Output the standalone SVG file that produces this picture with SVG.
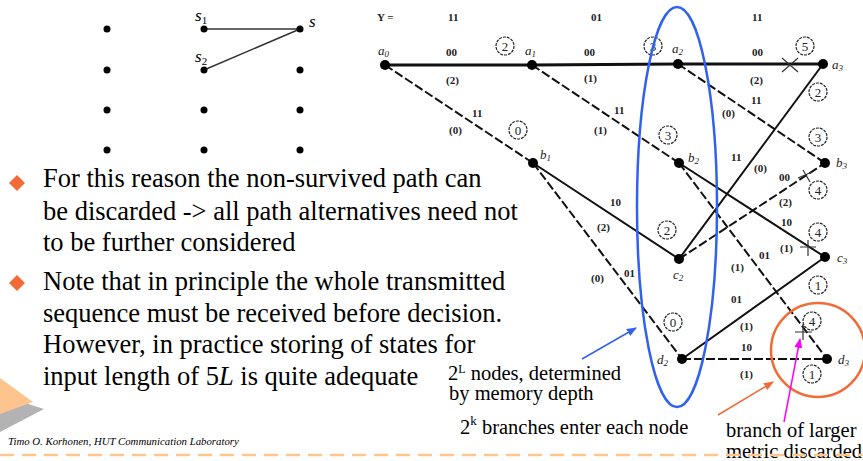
<svg xmlns="http://www.w3.org/2000/svg" width="863" height="461" viewBox="0 0 863 461">
<style>
.body{font-family:"Liberation Serif","Times New Roman",serif;font-size:26.5px;fill:#000}
.note{font-family:"Liberation Serif","Times New Roman",serif;font-size:20.5px;fill:#000}
.lab{font-family:"Liberation Serif","Times New Roman",serif;font-size:11px;font-weight:bold;fill:#222}
.node{font-family:"Liberation Serif","Times New Roman",serif;font-size:13px;font-style:italic;fill:#222}
.cn{font-family:"Liberation Serif","Times New Roman",serif;font-size:13px;fill:#222;text-anchor:middle}
.circ{fill:none;stroke:#222;stroke-width:1.2;stroke-dasharray:3 1}
.solid{stroke:#111;stroke-width:2;fill:none}
.thick{stroke:#111;stroke-width:3.2;fill:none}
.dash{stroke:#111;stroke-width:2;fill:none;stroke-dasharray:9 3}
.dot{fill:#000}
.mark{stroke:#333;stroke-width:1.2;fill:none}
</style>
<defs>
<marker id="ab" markerWidth="10" markerHeight="8" refX="9" refY="4" orient="auto" markerUnits="userSpaceOnUse"><path d="M0,0 L10,4 L0,8 z" fill="#2f62ee"/></marker>
<marker id="ao" markerWidth="10" markerHeight="8" refX="9" refY="4" orient="auto" markerUnits="userSpaceOnUse"><path d="M0,0 L10,4 L0,8 z" fill="#f26a35"/></marker>
<marker id="am" markerWidth="10" markerHeight="8" refX="9" refY="4" orient="auto" markerUnits="userSpaceOnUse"><path d="M0,0 L10,4 L0,8 z" fill="#ff00ff"/></marker>
</defs>
<rect width="863" height="461" fill="#fff"/>

<!-- small left trellis -->
<g id="small-trellis">
<line x1="204" y1="29" x2="300" y2="29" stroke="#333" stroke-width="1.5"/>
<line x1="204" y1="70" x2="300" y2="29" stroke="#333" stroke-width="1.5"/>
<g class="dot">
<circle cx="107" cy="29" r="3.5"/><circle cx="204" cy="29" r="3.5"/><circle cx="300" cy="29" r="3.5"/>
<circle cx="107" cy="70" r="3.5"/><circle cx="204" cy="70" r="3.5"/><circle cx="300" cy="70" r="3.5"/>
<circle cx="107" cy="110" r="3.5"/><circle cx="204" cy="110" r="3.5"/><circle cx="300" cy="110" r="3.5"/>
<circle cx="107" cy="150" r="3.5"/><circle cx="204" cy="150" r="3.5"/><circle cx="300" cy="150" r="3.5"/>
</g>
<text x="195" y="21" font-family="Liberation Serif,serif" font-size="17" font-style="italic">s<tspan font-size="11" font-style="normal" dy="3">1</tspan></text>
<text x="195" y="62" font-family="Liberation Serif,serif" font-size="17" font-style="italic">s<tspan font-size="11" font-style="normal" dy="3">2</tspan></text>
<text x="309" y="27" font-family="Liberation Serif,serif" font-size="17" font-style="italic">s</text>
</g>

<!-- connectors -->
<g id="connectors">
<line class="thick" x1="385" y1="65" x2="532" y2="65"/>
<line class="thick" x1="532" y1="65" x2="678" y2="64"/>
<line class="thick" x1="678" y1="64" x2="823" y2="64"/>
<line class="dash" x1="385" y1="65" x2="533" y2="163"/>
<line class="dash" x1="532" y1="65" x2="679" y2="163"/>
<line class="dash" x1="678" y1="64" x2="825" y2="163"/>
<line class="solid" x1="533" y1="163" x2="679" y2="259"/>
<line class="dash" x1="533" y1="163" x2="682" y2="359"/>
<line class="solid" x1="679" y1="163" x2="825" y2="257"/>
<line class="dash" x1="679" y1="163" x2="827" y2="359"/>
<line class="solid" x1="679" y1="259" x2="823" y2="64"/>
<line class="dash" x1="679" y1="259" x2="825" y2="163"/>
<line class="solid" x1="682" y1="359" x2="825" y2="257"/>
<line class="dash" x1="682" y1="359" x2="827" y2="359" stroke-width="3" stroke-dasharray="22 4"/>
<!-- discard marks -->
<path class="mark" d="M782,58 L798,72 M782,72 L798,58"/>
<path class="mark" d="M803,170 L810,182 M798,178 L812,172"/>
<path class="mark" d="M800,247 L816,247 M808,240 L808,256"/>
<path class="mark" d="M795,332 L812,332 M803,324 L803,340"/>
</g>

<!-- nodes -->
<g id="node-a0"><circle class="dot" cx="385" cy="65" r="5"/><text class="node" x="378" y="55">a<tspan font-size="9" dy="2">0</tspan></text></g>
<g id="node-a1"><circle class="dot" cx="532" cy="65" r="5"/><text class="node" x="525" y="55">a<tspan font-size="9" dy="2">1</tspan></text></g>
<g id="node-a2"><circle class="dot" cx="678" cy="64" r="5"/><text class="node" x="672" y="53">a<tspan font-size="9" dy="2">2</tspan></text></g>
<g id="node-a3"><circle class="dot" cx="823" cy="64" r="5"/><text class="node" x="832" y="69">a<tspan font-size="9" dy="2">3</tspan></text></g>
<g id="node-b1"><circle class="dot" cx="533" cy="163" r="5"/><text class="node" x="540" y="159">b<tspan font-size="9" dy="2">1</tspan></text></g>
<g id="node-b2"><circle class="dot" cx="679" cy="163" r="5"/><text class="node" x="688" y="162">b<tspan font-size="9" dy="2">2</tspan></text></g>
<g id="node-b3"><circle class="dot" cx="825" cy="163" r="5"/><text class="node" x="836" y="167">b<tspan font-size="9" dy="2">3</tspan></text></g>
<g id="node-c2"><circle class="dot" cx="679" cy="259" r="5"/><text class="node" x="673" y="279">c<tspan font-size="9" dy="2">2</tspan></text></g>
<g id="node-c3"><circle class="dot" cx="825" cy="257" r="5"/><text class="node" x="837" y="262">c<tspan font-size="9" dy="2">3</tspan></text></g>
<g id="node-d2"><circle class="dot" cx="682" cy="359" r="5"/><text class="node" x="657" y="364">d<tspan font-size="9" dy="2">2</tspan></text></g>
<g id="node-d3"><circle class="dot" cx="827" cy="359" r="5"/><text class="node" x="838" y="364">d<tspan font-size="9" dy="2">3</tspan></text></g>

<!-- received sequence -->
<g id="y-row" class="lab">
<text x="377" y="21">Y =</text>
<text x="448" y="21">11</text>
<text x="591" y="21">01</text>
<text x="752" y="21">11</text>
</g>

<!-- branch labels -->
<g id="branch-labels" class="lab">
<text x="446" y="56">00</text><text x="446" y="84">(2)</text>
<text x="584" y="56">00</text><text x="584" y="82">(1)</text>
<text x="752" y="56">00</text><text x="750" y="84">(2)</text>
<text x="472" y="117">11</text><text x="449" y="134">(0)</text>
<text x="614" y="114">11</text><text x="594" y="134">(1)</text>
<text x="751" y="104">11</text><text x="722" y="117">(0)</text>
<text x="610" y="206">10</text><text x="597" y="231">(2)</text>
<text x="624" y="277">01</text><text x="591" y="282">(0)</text>
<text x="781" y="226">10</text><text x="780" y="252">(1)</text>
<text x="759" y="259">01</text><text x="731" y="271">(1)</text>
<text x="731" y="161">11</text><text x="754" y="172">(0)</text>
<text x="779" y="181">00</text><text x="779" y="206">(2)</text>
<text x="731" y="303">01</text><text x="740" y="330">(1)</text>
<text x="741" y="351">10</text><text x="740" y="378">(1)</text>
</g>

<!-- path metrics -->
<g id="metrics">
<g><circle class="circ" cx="505" cy="46" r="9"/><text class="cn" x="505" y="51">2</text></g>
<g><circle class="circ" cx="653" cy="46" r="9"/><text class="cn" x="653" y="51">3</text></g>
<g><circle class="circ" cx="805" cy="46" r="9"/><text class="cn" x="805" y="51">5</text></g>
<g><circle class="circ" cx="818" cy="92" r="9"/><text class="cn" x="818" y="97">2</text></g>
<g><circle class="circ" cx="518" cy="130" r="9"/><text class="cn" x="518" y="135">0</text></g>
<g><circle class="circ" cx="668" cy="135" r="9"/><text class="cn" x="668" y="140">3</text></g>
<g><circle class="circ" cx="818" cy="137" r="9"/><text class="cn" x="818" y="142">3</text></g>
<g><circle class="circ" cx="818" cy="190" r="9"/><text class="cn" x="818" y="195">4</text></g>
<g><circle class="circ" cx="667" cy="230" r="9"/><text class="cn" x="667" y="235">2</text></g>
<g><circle class="circ" cx="818" cy="232" r="9"/><text class="cn" x="818" y="237">4</text></g>
<g><circle class="circ" cx="818" cy="285" r="9"/><text class="cn" x="818" y="290">1</text></g>
<g><circle class="circ" cx="673" cy="322" r="9"/><text class="cn" x="673" y="327">0</text></g>
<g><circle class="circ" cx="812" cy="321" r="9"/><text class="cn" x="812" y="326">4</text></g>
<g><circle class="circ" cx="812" cy="374" r="9"/><text class="cn" x="812" y="379">1</text></g>
</g>

<!-- highlights -->
<g id="annotations">
<ellipse cx="677" cy="207" rx="40" ry="200" fill="none" stroke="#2f62ee" stroke-width="2.5"/>
<circle cx="818" cy="350" r="47" fill="none" stroke="#f26a35" stroke-width="2.5"/>
<line x1="582" y1="359" x2="636" y2="328" stroke="#2f62ee" stroke-width="1.5" marker-end="url(#ab)"/>
<line x1="718" y1="415" x2="773" y2="382" stroke="#f26a35" stroke-width="1.5" marker-end="url(#ao)"/>
<line x1="784" y1="422" x2="800" y2="339" stroke="#ff00ff" stroke-width="1.5" marker-end="url(#am)"/>
<text class="note" x="448" y="380" font-size="20">2<tspan font-size="12" dy="-7">L</tspan><tspan dy="7"> nodes, determined</tspan></text>
<text class="note" x="449" y="400" font-size="20">by memory depth</text>
<text class="note" x="460" y="434" font-size="21">2<tspan font-size="13" dy="-9">k</tspan><tspan dy="9"> branches enter each node</tspan></text>
<text class="note" x="726" y="437">branch of larger</text>
<text class="note" x="726" y="458">metric discarded</text>
</g>

<!-- slide text -->
<g id="slide-text">
<path d="M17,175 L25,183 L17,191 L9,183 z" fill="#f26a35"/>
<path d="M17,275 L25,283 L17,291 L9,283 z" fill="#f26a35"/>
<text class="body" x="43" y="187">For this reason the non-survived path can</text>
<text class="body" x="43" y="220">be discarded -&gt; all path alternatives need not</text>
<text class="body" x="43" y="251">to be further considered</text>
<text class="body" x="43" y="290">Note that in principle the whole transmitted</text>
<text class="body" x="43" y="322">sequence must be received before decision.</text>
<text class="body" x="43" y="353">However, in practice storing of states for</text>
<text class="body" x="43" y="385">input length of 5<tspan font-style="italic">L</tspan> is quite adequate</text>
<polygon points="0,395 44,409 0,432" fill="#b3b3b3"/>
<polygon points="0,378 33,402 0,414" fill="#fdc48d"/>
<text x="8" y="445" font-family="Liberation Serif,serif" font-size="10.8" font-style="italic">Timo O. Korhonen, HUT Communication Laboratory</text>
<line x1="0" y1="455" x2="863" y2="455" stroke="#fdc590" stroke-width="2.5" stroke-dasharray="14 8"/>
</g>
</svg>
